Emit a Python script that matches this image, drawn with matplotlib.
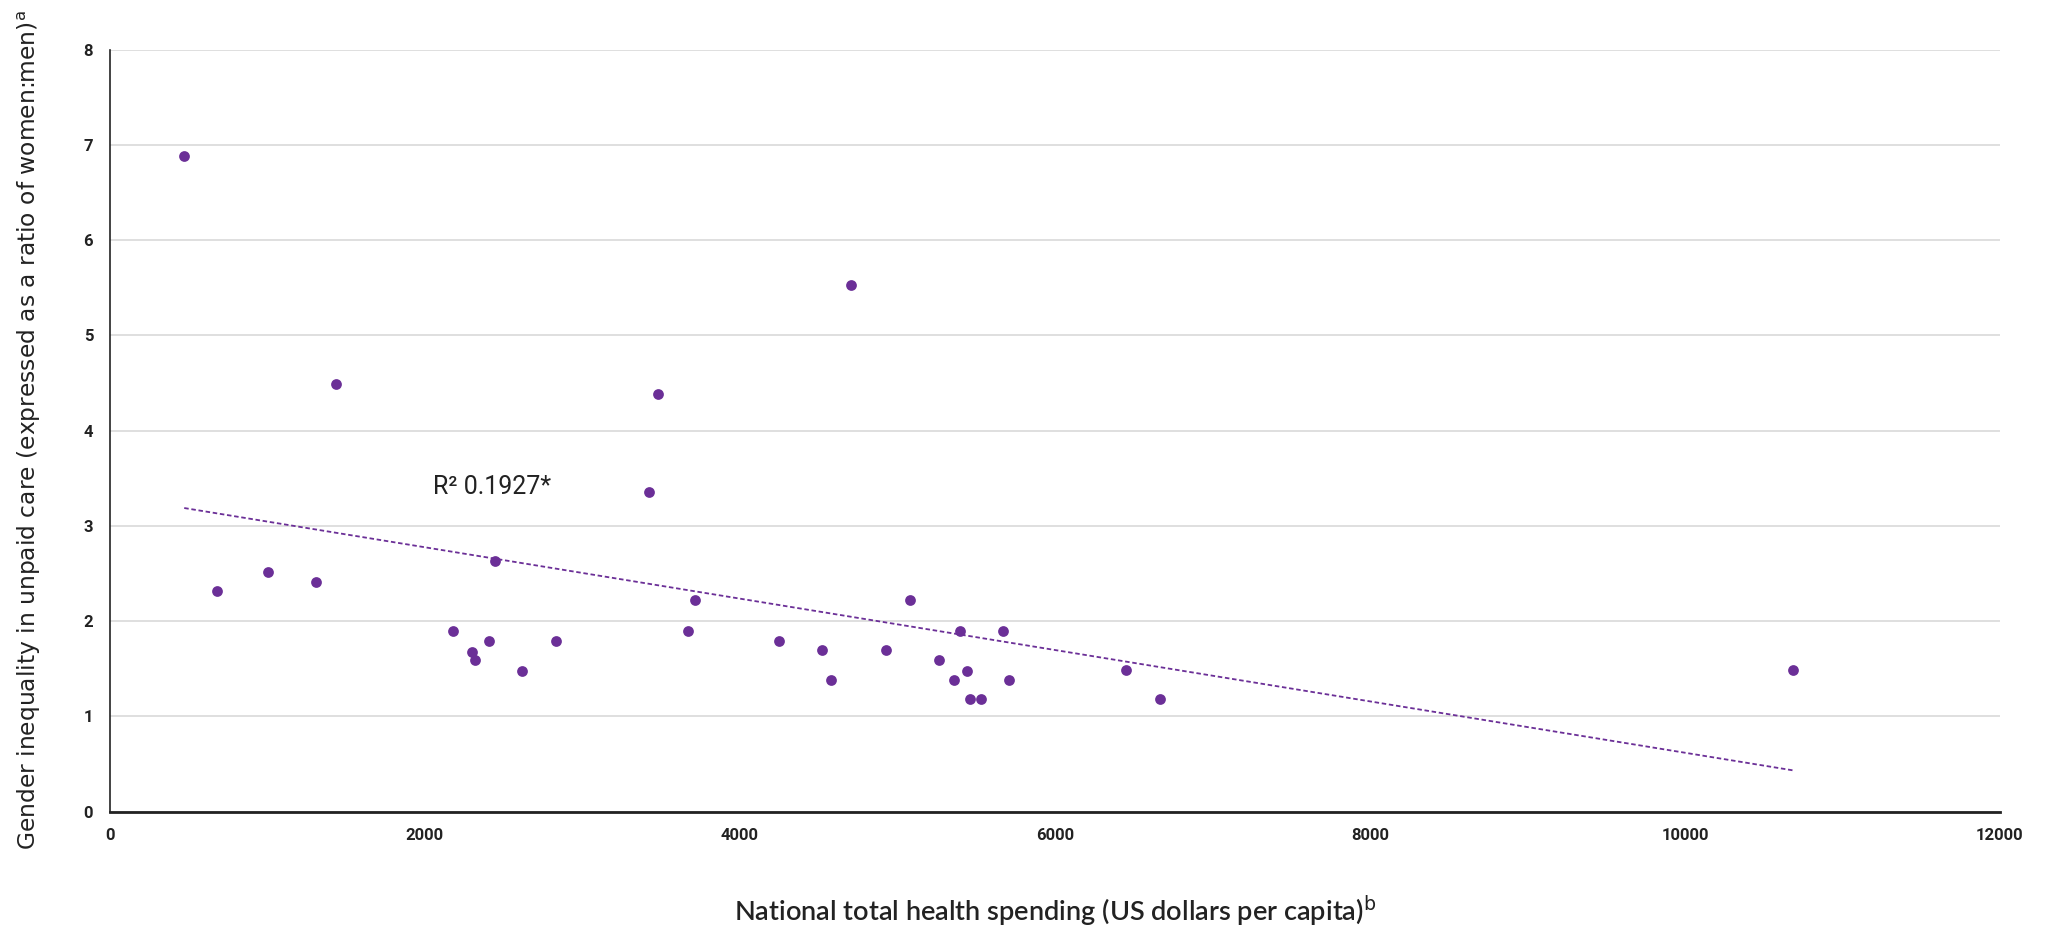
import numpy as np
import matplotlib.pyplot as plt

# health spending (US$ per capita) and women:men ratio of unpaid care
spending = [472, 679, 1002, 1308, 1433, 2178, 2302, 2319, 2410, 2443, 2617, 2832,
            3420, 3478, 3669, 3718, 4248, 4522, 4580, 4704, 4928, 5077, 5267,
            5358, 5400, 5441, 5458, 5532, 5673, 5706, 6451, 6667, 10683]
ratio = [6.88, 2.32, 2.52, 2.41, 4.49, 1.90, 1.68, 1.59, 1.79, 2.63, 1.48, 1.79,
         3.36, 4.38, 1.90, 2.22, 1.79, 1.70, 1.38, 5.53, 1.70, 2.22, 1.59,
         1.38, 1.90, 1.48, 1.18, 1.18, 1.90, 1.38, 1.49, 1.18, 1.49]

xticks = [0, 2000, 4000, 6000, 8000, 10000, 12000]
yticks = [0, 1, 2, 3, 4, 5, 6, 7, 8]

purple = '#6b2f97'

fig = plt.figure(figsize=(20.46, 9.25), dpi=100)
ax = fig.add_axes([0.0537, 0.1225, 0.9238, 0.8239])

ax.scatter(spending, ratio, s=60, color=purple, zorder=3, linewidths=0)

# linear trend line
x = np.array(spending)
y = np.array(ratio)
m, c = np.polyfit(x, y, 1)
xl = np.array([x.min(), x.max()])
ax.plot(xl, m * xl + c, color=purple, lw=1.3, ls=(0, (2.5, 1.5)), zorder=2)

ax.text(2054, 3.41, 'R² 0.1927*', fontsize=18, family='Roboto', color='#222222',
        va='center', ha='left')

ax.set_xlim(0, 12000)
ax.set_ylim(0, 8)
ax.set_xticks(xticks)
ax.set_yticks(yticks)
ax.tick_params(length=0, labelsize=12, pad=12, colors='#222222')
for lab in ax.get_xticklabels() + ax.get_yticklabels():
    lab.set_family('Roboto')
    lab.set_fontweight('bold')

ax.grid(axis='y', color='#d9d9d9', lw=1.2)
ax.set_axisbelow(True)
for s in ['top', 'right']:
    ax.spines[s].set_visible(False)
ax.spines['left'].set_linewidth(1.2)
ax.spines['bottom'].set_linewidth(2)
ax.spines['left'].set_color('#222222')
ax.spines['bottom'].set_color('#222222')

ax.set_ylabel(r'Gender inequality in unpaid care (expressed as a ratio of women:men)$^\mathrm{a}$',
              fontsize=16.8, family='DejaVu Sans', color='#222222', labelpad=29)
ax.set_xlabel(r'National total health spending (US dollars per capita)$^\mathrm{b}$',
              fontsize=19.5, family='Lato', fontweight='semibold', color='#222222',
              labelpad=36)

fig.savefig('out.png', dpi=100)
